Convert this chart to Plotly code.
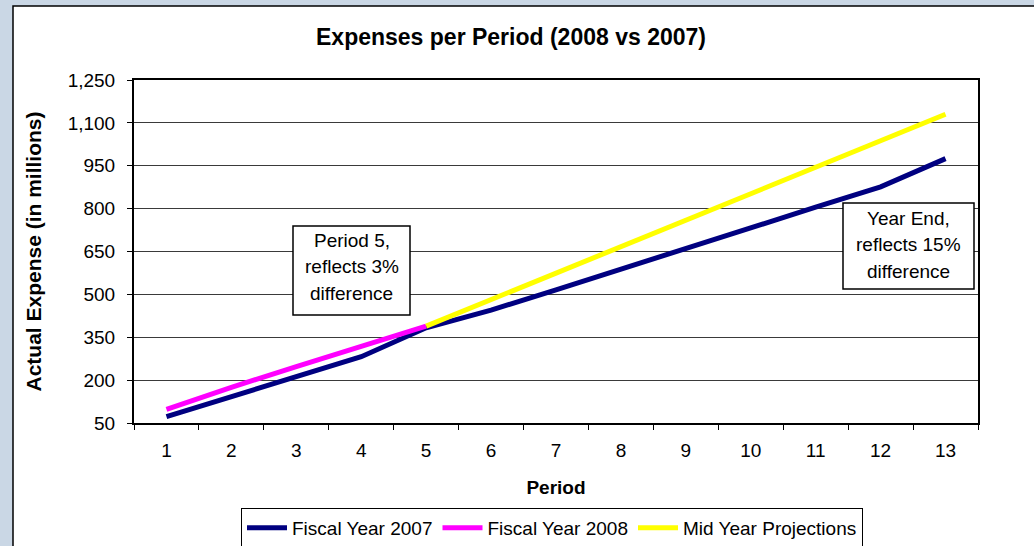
import plotly.graph_objects as go

# ---- data ----
periods = [str(i) for i in range(1, 14)]
fy2007 = [72, 142, 212, 282, 383, 445, 516, 589, 662, 733, 805, 876, 975]
fy2008_periods = ["1", "2", "3", "4", "5"]
fy2008 = [98, 175, 247, 317, 389]
proj_periods = ["5", "6", "7", "8", "9", "10", "11", "12", "13"]
projections = [389, 482, 574, 667, 760, 852, 945, 1038, 1130]
y_ticks = [50, 200, 350, 500, 650, 800, 950, 1100, 1250]

title_text = "Expenses per Period (2008 vs 2007)"
note1 = ["Period 5,", "reflects 3%", "difference"]
note2 = ["Year End,", "reflects 15%", "difference"]

W, H = 1034, 546
L, R, T, B = 134, 978, 80, 423  # plot area in pixels

def px(x):
    return (x - L) / (R - L)

def py(y):
    return (B - y) / (B - T)

FONT = "Liberation Sans, Arial, sans-serif"

fig = go.Figure()
fig.add_trace(go.Scatter(x=periods, y=fy2007, mode="lines", name="Fiscal Year 2007",
                         line=dict(color="#000080", width=5)))
fig.add_trace(go.Scatter(x=fy2008_periods, y=fy2008, mode="lines", name="Fiscal Year 2008",
                         line=dict(color="#FF00FF", width=5)))
fig.add_trace(go.Scatter(x=proj_periods, y=projections, mode="lines", name="Mid Year Projections",
                         line=dict(color="#FFFF00", width=5)))

shapes = [
    # outer white chart frame
    dict(type="rect", xref="paper", yref="paper", x0=px(13), x1=px(1045), y0=py(560), y1=py(6),
         fillcolor="white", line=dict(color="black", width=1.5), layer="below"),
    # annotation boxes
    dict(type="rect", xref="paper", yref="paper", x0=px(293), x1=px(410), y0=py(315), y1=py(226),
         fillcolor="white", line=dict(color="black", width=1.5), layer="above"),
    dict(type="rect", xref="paper", yref="paper", x0=px(843), x1=px(974), y0=py(289), y1=py(203),
         fillcolor="white", line=dict(color="black", width=1.5), layer="above"),
]

annotations = []
for i, t in enumerate(note1):
    annotations.append(dict(xref="paper", yref="paper", x=px(351.5), y=py(240 + 26.5 * i), text=t,
                            showarrow=False, xanchor="center", yanchor="middle",
                            font=dict(family=FONT, size=19, color="black")))
for i, t in enumerate(note2):
    annotations.append(dict(xref="paper", yref="paper", x=px(908.5), y=py(218 + 26.5 * i), text=t,
                            showarrow=False, xanchor="center", yanchor="middle",
                            font=dict(family=FONT, size=19, color="black")))

fig.update_layout(
    width=W, height=H,
    margin=dict(l=L, r=W - R, t=T, b=H - B, pad=0, autoexpand=False),
    paper_bgcolor="#cad7e5",
    plot_bgcolor="white",
    font=dict(family=FONT, size=19, color="black"),
    title=dict(text="<b>" + title_text + "</b>", x=511 / W, xanchor="center",
               y=1 - 37 / H, yanchor="middle", xref="container", yref="container",
               font=dict(family=FONT, size=23, color="black")),
    xaxis=dict(type="category", tickson="boundaries", range=[-0.5, 12.5],
               ticks="outside", ticklen=5, tickwidth=1, ticklabelstandoff=9,
               tickcolor="black", showline=True, linecolor="black", linewidth=2, mirror=True,
               showgrid=False, zeroline=False, automargin=False,
               tickfont=dict(family=FONT, size=19, color="black"),
               title=dict(text="<b>Period</b>", standoff=21,
                          font=dict(family=FONT, size=19, color="black"))),
    yaxis=dict(range=[50, 1250], tickvals=y_ticks, tickformat=",", ticks="outside", ticklen=5,
               tickwidth=1, tickcolor="black", showline=True, linecolor="black", linewidth=2,
               mirror=True, showgrid=True, gridcolor="#3a3a3a", gridwidth=1, zeroline=False,
               automargin=False, ticklabelstandoff=8,
               tickfont=dict(family=FONT, size=19, color="black"),
               title=dict(text="<b>Actual Expense (in millions)</b>", standoff=20,
                          font=dict(family=FONT, size=21, color="black"))),
    legend=dict(orientation="h", xref="container", yref="container",
                x=552 / W, xanchor="center", y=1 - 508 / H, yanchor="top",
                bgcolor="white", bordercolor="black", borderwidth=1,
                font=dict(family=FONT, size=19, color="black"), itemwidth=40,
                tracegroupgap=0),
    shapes=shapes,
    annotations=annotations,
    showlegend=True,
)

fig.write_html("out.html", config={"displayModeBar": False},
               post_script="document.body.style.margin='0';")
